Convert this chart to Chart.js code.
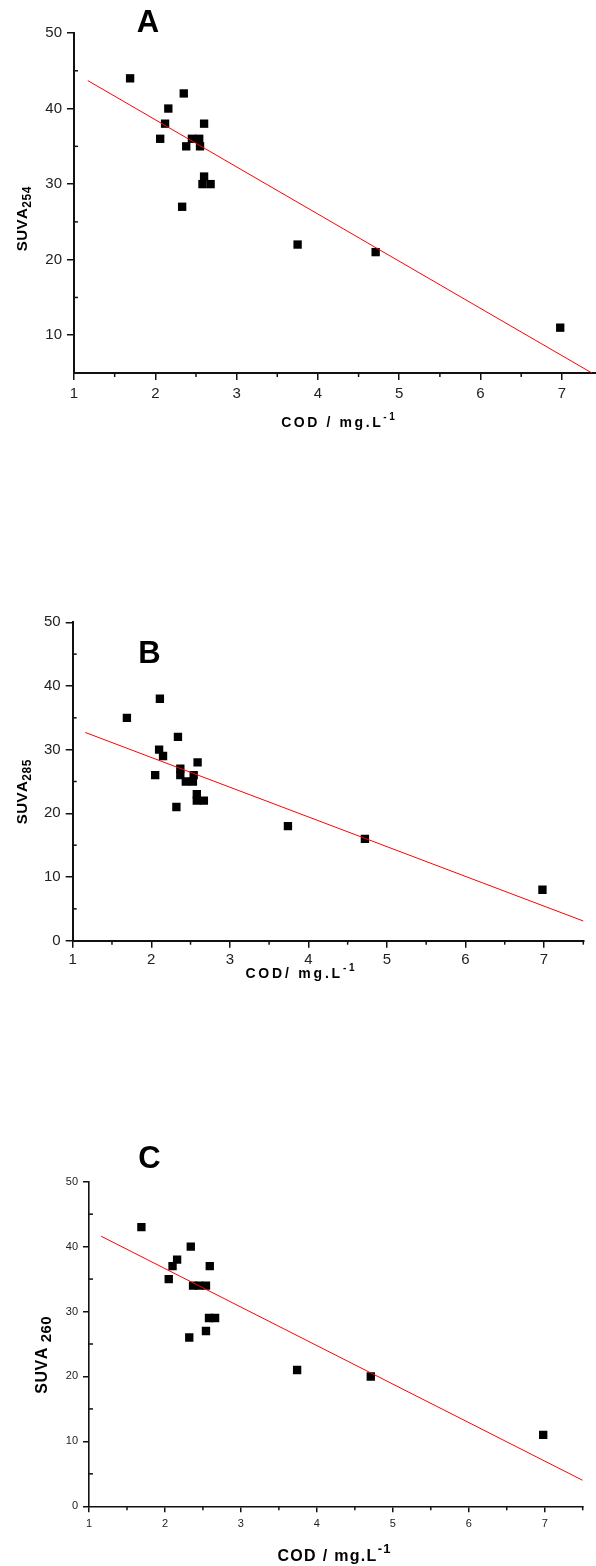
<!DOCTYPE html>
<html>
<head>
<meta charset="utf-8">
<script src="https://cdn.jsdelivr.net/npm/chart.js@4/dist/chart.umd.min.js"></script>
<style>
  html, body { margin: 0; padding: 0; background: #fff; }
  body { width: 596px; height: 1566px; position: relative; overflow: hidden; }
  canvas { position: absolute; left: 0; }
</style>
</head>
<body>
<canvas id="chartA" width="596" height="440" style="top:0"></canvas>
<canvas id="chartB" width="596" height="400" style="top:600px"></canvas>
<canvas id="chartC" width="596" height="446" style="top:1120px"></canvas>
<script>
// COD (mg/L) against specific UV absorbance at three wavelengths
const codA  = [1.69, 2.35, 2.16, 2.12, 2.60, 2.06, 2.45, 2.54, 2.38, 2.55, 2.60, 2.58, 2.68, 2.33, 3.75, 4.71, 6.98];
const suvaA = [44, 42, 40, 38, 38, 36, 36, 36, 35, 35, 31, 30, 30, 27, 22, 21, 11];

const codB  = [1.69, 2.11, 2.34, 2.10, 2.15, 2.59, 2.05, 2.37, 2.37, 2.54, 2.44, 2.53, 2.58, 2.58, 2.67, 2.32, 3.74, 4.72, 6.98];
const suvaB = [35, 38, 32, 30, 29, 28, 26, 27, 26, 26, 25, 25, 23, 22, 22, 21, 18, 16, 8];

const codC  = [1.69, 2.34, 2.16, 2.10, 2.59, 2.05, 2.37, 2.45, 2.54, 2.58, 2.66, 2.32, 2.54, 3.74, 4.71, 6.98];
const suvaC = [43, 40, 38, 37, 37, 35, 34, 34, 34, 29, 29, 26, 27, 21, 20, 11];

// linear fit lines (end points)
const fitAx = [1.17, 7.37], fitAy = [43.7, 5.0];
const fitBx = [1.16, 7.52], fitBy = [32.7, 3.0];
const fitCx = [1.16, 7.50], fitCy = [41.6, 4.0];

// axis ticks
const codTicks   = [1, 2, 3, 4, 5, 6, 7];
const codMinor   = [1.5, 2.5, 3.5, 4.5, 5.5, 6.5, 7.5];
const suvaTicksA = [10, 20, 30, 40, 50];
const suvaMinorA = [15, 25, 35, 45];
const suvaTicks  = [0, 10, 20, 30, 40, 50];
const suvaMinor  = [5, 15, 25, 35, 45];

const FAMILY = '"Liberation Sans", Arial, Helvetica, sans-serif';

function pts(xs, ys) {
  return xs.map((x, i) => ({ x: x, y: ys[i] }));
}

// draws a run of bold text pieces (for sub/superscripts), centred on cx, cy
function drawLabel(ctx, parts, cx, cy, angle, spacing) {
  ctx.save();
  ctx.translate(cx, cy);
  ctx.rotate(angle);
  ctx.fillStyle = '#000';
  ctx.textAlign = 'left';
  ctx.textBaseline = 'alphabetic';
  const runs = [];
  let total = 0;
  parts.forEach(p => {
    ctx.font = 'bold ' + p.size + 'px ' + FAMILY;
    for (const ch of p.text) {
      const w = ctx.measureText(ch).width;
      runs.push({ ch: ch, w: w, font: ctx.font, dy: p.dy || 0 });
      total += w + spacing;
    }
  });
  total -= spacing;
  let x = -total / 2;
  const base = parts[0].size * 0.36;
  runs.forEach(r => {
    ctx.font = r.font;
    ctx.fillText(r.ch, x, base + r.dy);
    x += r.w + spacing;
  });
  ctx.restore();
}

function panelText(cfg) {
  return {
    id: 'panelText',
    afterDraw(chart) {
      const ctx = chart.ctx;
      const xs = chart.scales.x, ys = chart.scales.y;
      const area = chart.chartArea;
      ctx.save();
      ctx.strokeStyle = '#111';
      ctx.lineWidth = 1.5;
      cfg.xMinor.forEach(v => {
        if (v > xs.max) return;
        const px = xs.getPixelForValue(v);
        ctx.beginPath();
        ctx.moveTo(px, area.bottom);
        ctx.lineTo(px, area.bottom + cfg.minorLen);
        ctx.stroke();
      });
      cfg.yMinor.forEach(v => {
        if (v <= ys.min) return;
        const py = ys.getPixelForValue(v);
        ctx.beginPath();
        ctx.moveTo(area.left, py);
        ctx.lineTo(area.left + cfg.minorLen, py);
        ctx.stroke();
      });
      ctx.restore();
      drawLabel(ctx, [{ text: cfg.letter, size: 31 }], cfg.letterPos[0], cfg.letterPos[1], 0, 0);
      drawLabel(ctx, cfg.yTitle, cfg.yTitlePos[0], cfg.yTitlePos[1], -Math.PI / 2, cfg.ySpacing);
      drawLabel(ctx, cfg.xTitle, cfg.xTitlePos[0], cfg.xTitlePos[1], 0, cfg.xSpacing);
    }
  };
}

function makeChart(id, o) {
  return new Chart(document.getElementById(id), {
    data: {
      datasets: [
        {
          type: 'line',
          data: pts(o.fitX, o.fitY),
          borderColor: '#ff0000',
          borderWidth: 1,
          pointRadius: 0,
          fill: false,
          order: 0
        },
        {
          type: 'scatter',
          data: pts(o.xs, o.ys),
          pointStyle: 'rect',
          pointRadius: 5.9,
          backgroundColor: '#000',
          borderWidth: 0,
          order: 1
        }
      ]
    },
    options: {
      responsive: false,
      animation: false,
      devicePixelRatio: 1,
      layout: { padding: o.padding, autoPadding: false },
      plugins: { legend: { display: false }, tooltip: { enabled: false } },
      scales: {
        x: {
          type: 'linear',
          min: 1,
          max: o.xMax,
          afterBuildTicks: s => { s.ticks = codTicks.map(v => ({ value: v })); },
          afterFit: s => { s.height = 30; s.paddingLeft = 0; s.paddingRight = 0; },
          grid: { drawOnChartArea: false, tickLength: o.tickLen, color: '#111', lineWidth: 1.5 },
          border: { color: '#111', width: o.axisWidth },
          ticks: {
            font: { family: FAMILY, size: o.tickSize },
            color: '#222',
            padding: o.xPad,
            maxRotation: 0,
            autoSkip: false
          }
        },
        y: {
          type: 'linear',
          min: o.yMin,
          max: 50,
          afterBuildTicks: s => { s.ticks = o.yTicks.map(v => ({ value: v })); },
          afterFit: s => { s.width = o.yWidth; s.paddingTop = 0; s.paddingBottom = 0; },
          grid: { drawOnChartArea: false, tickLength: o.tickLen, color: '#111', lineWidth: 1.5 },
          border: { color: '#111', width: o.axisWidth },
          ticks: {
            font: { family: FAMILY, size: o.tickSize },
            color: '#222',
            padding: o.yPad,
            autoSkip: false
          }
        }
      }
    },
    plugins: [panelText(o.text)]
  });
}

makeChart('chartA', {
  xs: codA, ys: suvaA, fitX: fitAx, fitY: fitAy,
  xMax: 7.42, yMin: 5, yTicks: suvaTicksA,
  padding: { top: 33, left: 0, right: 0, bottom: 37 },
  yWidth: 74, tickLen: 7, tickSize: 15, xPad: 5, yPad: 5, axisWidth: 2,
  text: {
    letter: 'A', letterPos: [148, 21],
    yTitle: [{ text: 'SUVA', size: 15 }, { text: '254', size: 12, dy: 4 }],
    yTitlePos: [22, 219], ySpacing: 0.5,
    xTitle: [{ text: 'COD / mg.L', size: 14 }, { text: '-1', size: 10, dy: -7 }],
    xTitlePos: [338, 422], xSpacing: 2.6,
    xMinor: codMinor, yMinor: suvaMinorA, minorLen: 4
  }
});

makeChart('chartB', {
  xs: codB, ys: suvaB, fitX: fitBx, fitY: fitBy,
  xMax: 7.5, yMin: 0, yTicks: suvaTicks,
  padding: { top: 22.3, left: 0, right: 12.7, bottom: 29.3 },
  yWidth: 72.7, tickLen: 7, tickSize: 15, xPad: 3, yPad: 5, axisWidth: 2,
  text: {
    letter: 'B', letterPos: [149.5, 51.5],
    yTitle: [{ text: 'SUVA', size: 15 }, { text: '285', size: 12, dy: 4 }],
    yTitlePos: [22, 192], ySpacing: 0.5,
    xTitle: [{ text: 'COD/ mg.L', size: 14 }, { text: '-1', size: 10, dy: -7 }],
    xTitlePos: [300, 373], xSpacing: 2.8,
    xMinor: codMinor, yMinor: suvaMinor, minorLen: 4
  }
});

makeChart('chartC', {
  xs: codC, ys: suvaC, fitX: fitCx, fitY: fitCy,
  xMax: 7.5, yMin: 0, yTicks: suvaTicks,
  padding: { top: 61.7, left: 0, right: 13.3, bottom: 29.7 },
  yWidth: 89, tickLen: 6, tickSize: 11, xPad: 5, yPad: 5, axisWidth: 1.6,
  text: {
    letter: 'C', letterPos: [149.5, 36.5],
    yTitle: [{ text: 'SUVA ', size: 16 }, { text: '260', size: 15, dy: 4 }],
    yTitlePos: [41, 235], ySpacing: 0.5,
    xTitle: [{ text: 'COD / mg.L', size: 16 }, { text: '-1', size: 13, dy: -8 }],
    xTitlePos: [334, 435], xSpacing: 1.3,
    xMinor: codMinor, yMinor: suvaMinor, minorLen: 4
  }
});
</script>
</body>
</html>
